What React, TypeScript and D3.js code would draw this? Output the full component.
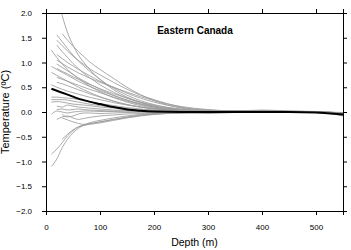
import { useRef, useEffect } from 'react';
import * as d3 from 'd3';

// profundidades comuns (m)
const depths = [10, 20, 30, 40, 50, 60, 70, 80, 100, 125, 150, 175, 200, 250, 300, 350, 400, 450, 500, 550];

// perfis individuais (anomalia de temperatura, °C)
const profA = [null, 2.4, 1.95, 1.6, 1.35, 1.15, 1.0, 0.87, 0.66, 0.45, 0.3, 0.2, 0.12, 0.04, 0.01, 0.02, 0.01, 0.0, -0.01, -0.06];
const profB = [null, null, 1.58, 1.45, 1.33, 1.22, 1.12, 1.02, 0.86, 0.68, 0.5, 0.35, 0.23, 0.08, 0.02, 0.03, 0.03, 0.01, 0.0, -0.05];
const profC = [null, 1.56, 1.42, 1.28, 1.15, 1.03, 0.93, 0.83, 0.66, 0.48, 0.34, 0.23, 0.15, 0.05, 0.01, 0.0, 0.02, 0.01, 0.0, -0.04];
const profD = [null, 1.45, 1.34, 1.23, 1.13, 1.04, 0.96, 0.88, 0.75, 0.6, 0.46, 0.34, 0.25, 0.1, 0.04, 0.02, 0.03, 0.02, 0.0, -0.07];
const profE = [1.25, 1.1, 0.97, 0.86, 0.76, 0.68, 0.6, 0.53, 0.41, 0.29, 0.2, 0.13, 0.08, 0.03, 0.01, 0.0, 0.0, 0.01, -0.01, -0.03];
const profF = [null, 1.16, 1.08, 1.0, 0.93, 0.86, 0.8, 0.74, 0.62, 0.5, 0.38, 0.28, 0.2, 0.09, 0.03, 0.02, 0.04, 0.02, 0.01, -0.05];
const profG = [null, 0.97, 0.9, 0.83, 0.76, 0.69, 0.63, 0.57, 0.46, 0.34, 0.24, 0.16, 0.1, 0.03, 0.0, 0.01, 0.01, 0.0, -0.01, -0.04];
const profH = [null, 1.35, 1.22, 1.1, 0.98, 0.88, 0.78, 0.7, 0.55, 0.4, 0.28, 0.19, 0.12, 0.04, 0.01, 0.02, 0.02, 0.01, 0.0, -0.08];
const profI = [0.92, 0.86, 0.8, 0.74, 0.68, 0.62, 0.57, 0.52, 0.43, 0.33, 0.24, 0.17, 0.11, 0.04, 0.01, 0.01, 0.0, 0.0, -0.01, -0.03];
const profJ = [0.8, 0.74, 0.68, 0.62, 0.56, 0.5, 0.45, 0.4, 0.31, 0.22, 0.15, 0.1, 0.06, 0.02, 0.0, 0.0, 0.01, 0.0, 0.0, -0.02];
const profK = [null, 0.7, 0.66, 0.62, 0.58, 0.54, 0.5, 0.46, 0.39, 0.3, 0.22, 0.15, 0.1, 0.04, 0.01, 0.03, 0.02, 0.01, 0.0, -0.05];
const profL = [null, 0.6, 0.57, 0.53, 0.49, 0.45, 0.41, 0.37, 0.3, 0.22, 0.15, 0.1, 0.06, 0.02, 0.0, 0.0, 0.0, 0.0, -0.01, -0.04];
const profM = [0.3, 0.3, 0.29, 0.28, 0.27, 0.25, 0.23, 0.21, 0.17, 0.13, 0.09, 0.06, 0.04, 0.01, 0.0, 0.01, 0.0, 0.0, 0.0, -0.02];
const profN = [0.25, 0.25, 0.25, 0.24, 0.22, 0.2, 0.18, 0.16, 0.13, 0.1, 0.07, 0.05, 0.03, 0.01, 0.0, 0.0, 0.0, 0.0, 0.0, -0.03];
const profO = [0.2, 0.21, 0.2, 0.18, 0.16, 0.15, 0.14, 0.13, 0.1, 0.08, 0.05, 0.03, 0.02, 0.0, 0.0, 0.0, 0.0, 0.0, -0.01, -0.02];
const profP = [null, 0.12, 0.1, 0.14, 0.12, 0.1, 0.09, 0.08, 0.06, 0.04, 0.03, 0.02, 0.01, 0.0, -0.01, 0.0, 0.01, 0.0, 0.0, -0.03];
const profQ = [null, 0.05, 0.06, 0.04, 0.05, 0.06, 0.05, 0.04, 0.03, 0.02, 0.02, 0.01, 0.0, 0.0, 0.0, 0.0, 0.0, 0.0, 0.0, -0.01];
const profR = [-0.05, 0.02, 0.0, -0.02, 0.0, 0.01, 0.02, 0.02, 0.01, 0.01, 0.0, 0.0, 0.0, -0.01, -0.02, 0.0, 0.0, 0.0, 0.0, -0.02];
const profS = [null, null, -0.05, -0.1, -0.08, -0.04, -0.02, -0.02, -0.03, -0.02, -0.01, 0.0, 0.0, 0.0, -0.03, -0.01, 0.0, 0.0, 0.0, -0.02];
const profT = [null, -0.15, -0.1, -0.08, -0.12, -0.15, -0.13, -0.11, -0.08, -0.06, -0.04, -0.03, -0.02, -0.01, -0.01, 0.0, 0.0, 0.0, -0.01, -0.04];
const profU = [null, null, -0.12, -0.16, -0.2, -0.23, -0.25, -0.24, -0.2, -0.15, -0.1, -0.06, -0.04, -0.02, -0.01, 0.0, 0.0, 0.0, 0.0, -0.03];
const profV = [-0.85, -0.75, -0.62, -0.48, -0.38, -0.3, -0.27, -0.25, -0.22, -0.17, -0.12, -0.08, -0.05, -0.02, -0.01, 0.0, 0.0, 0.0, 0.0, -0.02];
const profW = [-1.1, -0.95, -0.72, -0.55, -0.42, -0.33, -0.27, -0.24, -0.2, -0.15, -0.11, -0.07, -0.04, -0.02, -0.01, 0.0, 0.0, 0.0, 0.0, -0.02];
const profX = [null, null, -0.55, -0.45, -0.36, -0.3, -0.26, -0.22, -0.17, -0.12, -0.08, -0.05, -0.03, -0.01, 0.0, 0.0, 0.0, 0.0, 0.0, -0.03];
const profY = [0.55, 0.5, 0.46, 0.42, 0.39, 0.36, 0.33, 0.3, 0.25, 0.19, 0.14, 0.1, 0.07, 0.03, 0.01, 0.02, 0.01, 0.0, 0.0, -0.03];
const profZ = [null, 1.05, 0.98, 0.91, 0.85, 0.79, 0.74, 0.69, 0.6, 0.5, 0.4, 0.31, 0.23, 0.11, 0.05, 0.02, 0.02, 0.01, 0.0, -0.06];
const profZ2 = [null, 0.88, 0.82, 0.77, 0.71, 0.66, 0.61, 0.56, 0.47, 0.37, 0.28, 0.2, 0.14, 0.06, 0.02, 0.01, 0.01, 0.0, -0.01, -0.04];

const profiles = [profA, profB, profC, profD, profE, profF, profG, profH, profI, profJ, profK, profL, profM,
  profN, profO, profP, profQ, profR, profS, profT, profU, profV, profW, profX, profY, profZ, profZ2];

// perfil médio
const meanProfile = [0.47, 0.43, 0.39, 0.35, 0.31, 0.27, 0.24, 0.21, 0.16, 0.1, 0.05, 0.025, 0.01, 0.0, 0.0, 0.0, 0.0, 0.0, -0.01, -0.05];

const xTicks = [0, 100, 200, 300, 400, 500];
const yTicks = [-2.0, -1.5, -1.0, -0.5, 0.0, 0.5, 1.0, 1.5, 2.0];

const App = () => {
  const svgRef = useRef(null);
  const W = 351;
  const H = 250;
  const margin = { top: 13, right: 8, bottom: 39, left: 46 };

  useEffect(() => {
    const svg = d3.select(svgRef.current);
    svg.selectAll('*').remove();

    const x = d3.scaleLinear().domain([0, 550]).range([margin.left, W - margin.right]);
    const y = d3.scaleLinear().domain([-2, 2]).range([H - margin.bottom, margin.top]);

    svg.append('defs').append('clipPath').attr('id', 'plotClip')
      .append('rect')
      .attr('x', x(0)).attr('y', y(2))
      .attr('width', x(550) - x(0)).attr('height', y(-2) - y(2));

    const line = d3.line()
      .defined((d) => d[1] != null)
      .x((d) => x(d[0]))
      .y((d) => y(d[1]))
      .curve(d3.curveMonotoneX);

    const g = svg.append('g').attr('clip-path', 'url(#plotClip)');

    g.selectAll('.prof')
      .data(profiles)
      .join('path')
      .attr('class', 'prof')
      .attr('d', (p) => line(depths.map((d, i) => [d, p[i]])))
      .attr('fill', 'none')
      .attr('stroke', '#9c9c9c')
      .attr('stroke-width', 0.85);

    g.append('path')
      .attr('d', line(depths.map((d, i) => [d, meanProfile[i]])))
      .attr('fill', 'none')
      .attr('stroke', '#000')
      .attr('stroke-width', 2);

    const font = 'Liberation Sans, Arial, sans-serif';

    // eixos nos 4 lados
    const gx = svg.append('g').attr('transform', `translate(0,${y(-2)})`)
      .call(d3.axisBottom(x).tickValues(xTicks).tickSize(4).tickPadding(9).tickFormat(d3.format('d')));
    const gxt = svg.append('g').attr('transform', `translate(0,${y(2)})`)
      .call(d3.axisTop(x).tickValues(xTicks).tickSize(4).tickFormat(() => ''));
    const gy = svg.append('g').attr('transform', `translate(${x(0)},0)`)
      .call(d3.axisLeft(y).tickValues(yTicks).tickSize(4).tickPadding(10).tickFormat(d3.format('.1f')));
    const gyr = svg.append('g').attr('transform', `translate(${x(550)},0)`)
      .call(d3.axisRight(y).tickValues(yTicks).tickSize(4).tickFormat(() => ''));

    [gx, gxt, gy, gyr].forEach((a) => {
      a.selectAll('.domain').attr('stroke', '#000').attr('stroke-width', 1);
      a.selectAll('.tick line').attr('stroke', '#000');
      a.selectAll('text').attr('fill', '#000').style('font-family', font).style('font-size', '8px');
    });

    svg.append('text')
      .attr('x', 195).attr('y', 34)
      .attr('text-anchor', 'middle')
      .style('font-family', font).style('font-size', '10px').style('font-weight', 'bold')
      .text('Eastern Canada');

    svg.append('text')
      .attr('x', (x(0) + x(550)) / 2).attr('y', 246)
      .attr('text-anchor', 'middle')
      .style('font-family', font).style('font-size', '10.5px')
      .text('Depth (m)');

    svg.append('text')
      .attr('transform', `translate(9,${(y(2) + y(-2)) / 2}) rotate(-90)`)
      .attr('text-anchor', 'middle')
      .style('font-family', font).style('font-size', '11px')
      .text('Temperature (ºC)');
  }, []);

  return (
    <svg
      ref={svgRef}
      width={W}
      height={H}
      style={{ position: 'absolute', left: 0, top: 0, background: '#fff' }}
    />
  );
};

export default App;
